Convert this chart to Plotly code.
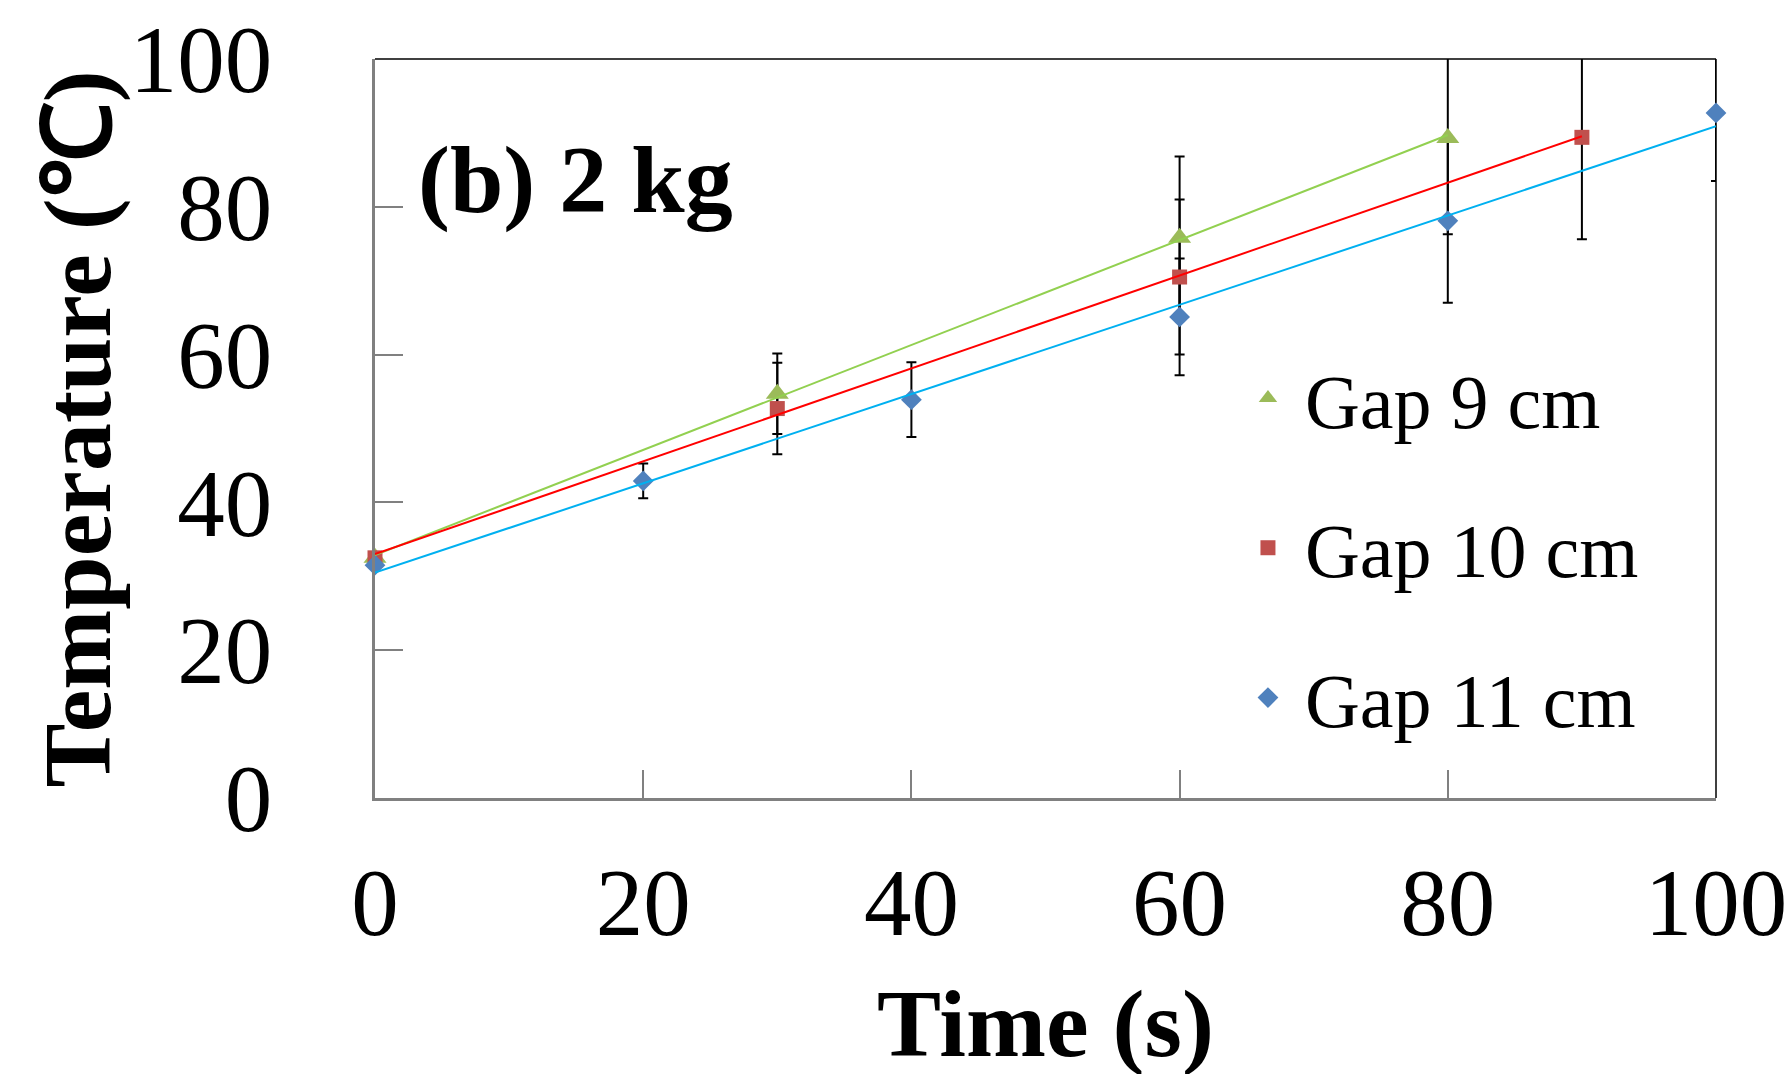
import numpy as np
import plotly.graph_objects as go

# ---- data ----
series_names = ["Gap 9 cm", "Gap 10 cm", "Gap 11 cm"]
time_gap9 = [0, 30, 60, 80]
temp_gap9 = [32.5, 54.7, 75.8, 89.3]
err_gap9 = [0, 5.45, 11.0, 13.0]

time_gap10 = [0, 30, 60, 90]
temp_gap10 = [32.5, 52.7, 70.5, 89.4]
err_gap10 = [0, 6.2, 10.5, 13.8]

time_gap11 = [0, 20, 40, 60, 80, 100]
temp_gap11 = [31.5, 42.9, 53.9, 65.1, 78.1, 92.7]
err_gap11 = [0, 2.35, 5.05, 7.9, 11.1, 9.2]

tick_vals = [0, 20, 40, 60, 80, 100]

# ---- styles ----
marker_colors = ["#9BBB59", "#C0504D", "#4F81BD"]
trend_colors = ["#92D050", "#FF0000", "#00B0F0"]
symbols = ["triangle-up", "square", "diamond"]
sizes = [20, 15, 16]
FONT = "Liberation Serif, Times New Roman, serif"

xs = [time_gap9, time_gap10, time_gap11]
ys = [temp_gap9, temp_gap10, temp_gap11]
es = [err_gap9, err_gap10, err_gap11]

fig = go.Figure()

# error bars (clipped to plot area)
for i in range(3):
    fig.add_trace(go.Scatter(
        x=xs[i], y=ys[i], mode="markers",
        marker=dict(size=1, opacity=0),
        error_y=dict(type="data", array=es[i], visible=True,
                     color="black", thickness=2, width=5),
        showlegend=False, hoverinfo="skip", cliponaxis=True,
        legendgroup=series_names[i],
    ))

# markers (not clipped)
for i in range(3):
    fig.add_trace(go.Scatter(
        x=xs[i], y=ys[i], mode="markers", name=series_names[i],
        marker=dict(symbol=symbols[i], size=sizes[i], color=marker_colors[i],
                    line=dict(width=0)),
        cliponaxis=False, legendgroup=series_names[i],
    ))

# linear trend lines (least squares fit of each series)
for i in range(3):
    xa = np.array(xs[i], dtype=float)
    ya = np.array(ys[i], dtype=float)
    slope, intercept = np.polyfit(xa, ya, 1)
    xl = [xa.min(), xa.max()]
    yl = [slope * v + intercept for v in xl]
    fig.add_trace(go.Scatter(
        x=xl, y=yl, mode="lines", line=dict(color=trend_colors[i], width=2),
        showlegend=False, hoverinfo="skip", legendgroup=series_names[i],
    ))

axis_common = dict(
    range=[0, 100], tickvals=tick_vals, ticks="inside", ticklen=28,
    tickwidth=2, tickcolor="#808080", showline=True, linecolor="#808080",
    linewidth=2.5, showgrid=False, zeroline=False, mirror=False,
    automargin=False,
    tickfont=dict(family=FONT, size=95, color="black"),
)

fig.update_layout(
    width=1788, height=1074,
    margin=dict(l=375, r=72, t=59, b=276, autoexpand=False),
    paper_bgcolor="white", plot_bgcolor="white",
    xaxis=dict(**axis_common, ticklabelstandoff=20),
    yaxis=dict(**axis_common, ticklabelstandoff=81),
    showlegend=True,
    legend=dict(
        x=0.6383, y=0.617, xanchor="left", yanchor="top",
        xref="paper", yref="paper",
        font=dict(family=FONT, size=76, color="black"),
        bgcolor="rgba(0,0,0,0)", tracegroupgap=48, itemsizing="trace",
        itemwidth=64,
    ),
    shapes=[
        dict(type="line", xref="x domain", yref="y domain", x0=0, x1=1, y0=1, y1=1,
             line=dict(color="black", width=1.5), layer="below"),
        dict(type="line", xref="x domain", yref="y domain", x0=1, x1=1, y0=0, y1=1,
             line=dict(color="black", width=1.5), layer="below"),
    ],
    annotations=[
        dict(text="<b>(b) 2 kg</b>", xref="x domain", yref="y domain",
             x=0.0306, y=0.8376, xanchor="left", yanchor="middle", showarrow=False,
             font=dict(family=FONT, size=96, color="black")),
        dict(text="<b>Time (s)</b>", xref="paper", yref="paper",
             x=0.5, y=-0.305, xanchor="center", yanchor="middle", showarrow=False,
             font=dict(family=FONT, size=96, color="black")),
        dict(text="<b>Temperature (℃)</b>", xref="paper", yref="paper",
             x=-0.2215, y=0.5, xanchor="center", yanchor="middle", showarrow=False,
             textangle=-90, font=dict(family=FONT, size=96, color="black")),
    ],
)

fig.write_html("out.html")
